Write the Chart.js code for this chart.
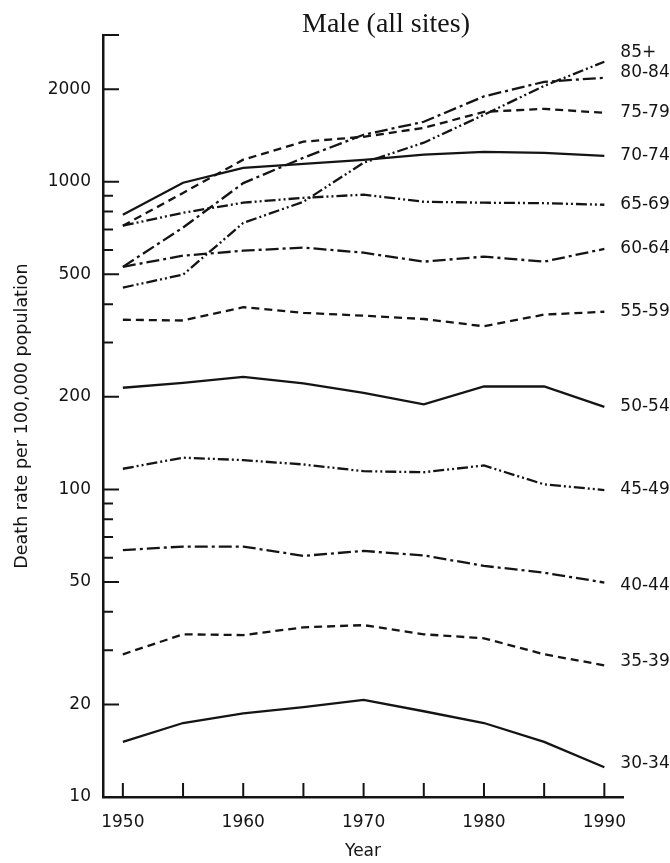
<!DOCTYPE html>
<html>
<head>
<meta charset="utf-8">
<title>Male (all sites)</title>
<script src="https://cdn.jsdelivr.net/npm/chart.js@4.4.1/dist/chart.umd.min.js"></script>
<style>
  body { margin: 0; background: #fff; }
  canvas { display: block; }
</style>
</head>
<body>
<canvas id="js--sterfteChart" width="670" height="863"></canvas>
<script>
// data (death rate per 100,000)
const jaren = [1950, 1955, 1960, 1965, 1970, 1975, 1980, 1985, 1990];

const r30_34 = [15.1, 17.4, 18.7, 19.6, 20.7, 19.0, 17.4, 15.1, 12.5];
const r35_39 = [29.1, 33.8, 33.6, 35.6, 36.2, 33.8, 32.8, 29.1, 26.8];
const r40_44 = [63.5, 65.2, 65.2, 60.8, 63.1, 61.0, 56.4, 53.6, 49.8];
const r45_49 = [116.7, 126.8, 124.5, 120.5, 114.6, 113.7, 119.6, 103.8, 99.5];
const r50_54 = [214, 222, 232, 221, 206, 189, 216, 216, 185.5];
const r55_59 = [356, 354, 391, 375, 367, 358, 339, 370, 378];
const r60_64 = [529, 575, 597, 611, 588, 550, 571, 550, 605];
const r65_69 = [720, 793, 855, 887, 908, 861, 855, 852, 842];
const r70_74 = [781, 993, 1109, 1143, 1178, 1225, 1251, 1241, 1213];
const r75_79 = [719, 920, 1180, 1350, 1400, 1497, 1688, 1726, 1675];
const r80_84 = [529, 710, 990, 1197, 1422, 1567, 1895, 2113, 2178];
const r85plus = [453, 499, 735, 861, 1153, 1340, 1651, 2050, 2455];

const groepen = ["30-34", "35-39", "40-44", "45-49", "50-54", "55-59",
                 "60-64", "65-69", "70-74", "75-79", "80-84", "85+"];
const reeksen = [r30_34, r35_39, r40_44, r45_49, r50_54, r55_59,
                 r60_64, r65_69, r70_74, r75_79, r80_84, r85plus];

// ticks
const yTicks = [10, 20, 30, 40, 50, 60, 70, 80, 90, 100, 200, 300, 400, 500,
                600, 700, 800, 900, 1000, 2000, 3000];
const yLabels = [10, 20, 50, 100, 200, 500, 1000, 2000];
const xTicks = [1950, 1955, 1960, 1965, 1970, 1975, 1980, 1985, 1990];

// solid, dashed, dash-dot, dash-dot-dot (repeats every 4 groups)
const streepjes = [[], [8, 5], [13, 4, 3, 4], [11, 3, 2, 3, 2, 3]];
// small nudge for the end labels so they don't overlap (px)
const labelNudge = {"85+": -9, "80-84": -5, "40-44": 3, "35-39": -4, "30-34": -4};

const inkt = "#141414";
const lettertype = "'DejaVu Sans', sans-serif";

const datasets = groepen.map(function(g, i) {
    return {
        label: g,
        data: jaren.map((j, k) => ({x: j, y: reeksen[i][k]})),
        borderColor: inkt,
        borderWidth: 2.3,
        borderDash: streepjes[i % 4],
        pointRadius: 0,
        tension: 0,
        fill: false
    };
});

// ticks drawn inwards + title + labels at line ends
const extraPlugin = {
    id: "extra",
    afterDraw(chart) {
        const ctx = chart.ctx;
        const area = chart.chartArea;
        const xs = chart.scales.x;
        const ys = chart.scales.y;
        ctx.save();
        ctx.strokeStyle = inkt;
        ctx.lineWidth = 2;
        ctx.beginPath();
        yTicks.forEach(function(v) {
            const py = ys.getPixelForValue(v);
            const len = (yLabels.includes(v) || v === 3000) ? 16 : 10;
            ctx.moveTo(area.left, py);
            ctx.lineTo(area.left + len, py);
        });
        xTicks.forEach(function(j) {
            const px = xs.getPixelForValue(j);
            ctx.moveTo(px, area.bottom);
            ctx.lineTo(px, area.bottom - 14);
        });
        ctx.stroke();

        // labels
        ctx.fillStyle = inkt;
        ctx.font = "17px " + lettertype;
        ctx.textAlign = "left";
        ctx.textBaseline = "middle";
        chart.data.datasets.forEach(function(ds, i) {
            const meta = chart.getDatasetMeta(i);
            const last = meta.data[meta.data.length - 1];
            const nudge = labelNudge[ds.label] || 0;
            ctx.fillText(ds.label, last.x + 16, last.y + nudge);
        });

        // title
        ctx.font = "28px 'Liberation Serif', 'Times New Roman', serif";
        ctx.textAlign = "center";
        ctx.textBaseline = "alphabetic";
        ctx.fillText("Male (all sites)", 386, 32);
        ctx.restore();
    }
};

const sterfteChart = new Chart(document.getElementById("js--sterfteChart"), {
    type: "line",
    data: {datasets: datasets},
    plugins: [extraPlugin],
    options: {
        responsive: false,
        animation: false,
        layout: {
            padding: {top: 35, right: 47, left: 0, bottom: 0}
        },
        plugins: {
            legend: {display: false},
            title: {display: false},
            tooltip: {enabled: false}
        },
        scales: {
            x: {
                type: "linear",
                min: 1948.35,
                max: 1991.55,
                afterBuildTicks: function(scale) {
                    scale.ticks = xTicks.map(v => ({value: v}));
                },
                afterFit: function(scale) {
                    scale.height = 66;
                },
                grid: {display: false, drawTicks: false},
                border: {display: true, color: inkt, width: 2.5},
                ticks: {
                    autoSkip: false,
                    maxRotation: 0,
                    padding: 15,
                    color: inkt,
                    font: {family: lettertype, size: 17},
                    callback: v => (v % 10 === 0 ? String(v) : "")
                },
                title: {
                    display: true,
                    text: "Year",
                    color: inkt,
                    font: {family: lettertype, size: 17},
                    padding: {top: 0, bottom: 1}
                }
            },
            y: {
                type: "logarithmic",
                min: 10,
                max: 3000,
                afterBuildTicks: function(scale) {
                    scale.ticks = yTicks.map(v => ({value: v}));
                },
                afterFit: function(scale) {
                    scale.width = 103;
                },
                grid: {display: false, drawTicks: false},
                border: {display: true, color: inkt, width: 2.5},
                ticks: {
                    autoSkip: false,
                    padding: 12,
                    color: inkt,
                    font: {family: lettertype, size: 17},
                    callback: v => (yLabels.includes(v) ? String(v) : "")
                },
                title: {
                    display: true,
                    text: "Death rate per 100,000 population",
                    color: inkt,
                    font: {family: lettertype, size: 17.5},
                    padding: {top: 12, bottom: 0}
                }
            }
        }
    }
});
</script>
</body>
</html>
